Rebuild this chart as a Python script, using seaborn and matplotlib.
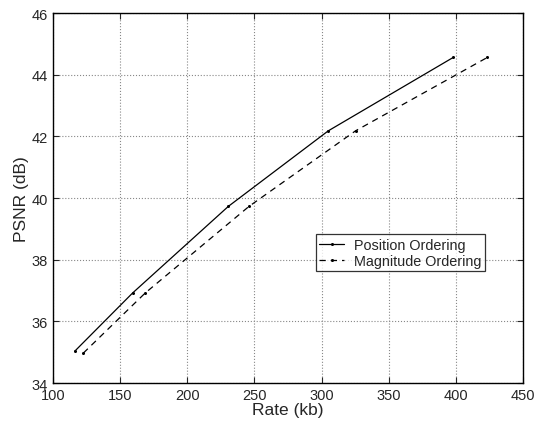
import numpy as np
import pandas as pd
import matplotlib
matplotlib.use("Agg")
import matplotlib.pyplot as plt
import seaborn as sns

# values
pos_rate = [116.4, 159.3, 230.6, 305.0, 398.0]
pos_psnr = [35.04, 36.92, 39.73, 42.18, 44.56]
mag_rate = [122.6, 168.7, 246.0, 325.3, 423.4]
mag_psnr = [34.97, 36.92, 39.73, 42.18, 44.56]
series_names = ["Position Ordering", "Magnitude Ordering"]

df = pd.concat([
    pd.DataFrame({"Rate": pos_rate, "PSNR": pos_psnr, "Method": series_names[0]}),
    pd.DataFrame({"Rate": mag_rate, "PSNR": mag_psnr, "Method": series_names[1]}),
], ignore_index=True)

sns.set_style("ticks")
plt.rcParams['font.family'] = ['Liberation Sans', 'DejaVu Sans']
plt.rcParams['xtick.direction'] = 'in'
plt.rcParams['ytick.direction'] = 'in'

fig = plt.figure(figsize=(5.49, 4.27), dpi=100)
ax = fig.add_axes([0.0965, 0.1007, 0.8561, 0.8663])

sns.lineplot(data=df, x="Rate", y="PSNR", hue="Method", style="Method",
             palette=["black", "black"], dashes=[(None, None), (5, 4)],
             markers=["o", "o"], markersize=2.2, markeredgewidth=0,
             linewidth=0.9, sort=False, ax=ax)

ax.set_xlim(100, 450)
ax.set_ylim(34, 46)
ax.set_xticks(np.arange(100, 451, 50))
ax.set_yticks(np.arange(34, 47, 2))
ax.grid(True, linestyle=':', color='#888888', linewidth=0.8)
ax.tick_params(top=True, right=True, labelsize=10.5, length=4, width=0.8)
for s in ax.spines.values():
    s.set_linewidth(1.0)
    s.set_color('black')

ax.set_xlabel("Rate (kb)", fontsize=12.5, labelpad=0)
ax.set_ylabel("PSNR (dB)", fontsize=12.5, labelpad=2)

leg = ax.legend(title=None, loc='center left', bbox_to_anchor=(0.544, 0.352),
                fontsize=10.4, frameon=True, fancybox=False, edgecolor='black',
                borderpad=0.25, handlelength=1.7, handletextpad=0.7,
                labelspacing=0.15)
leg.get_frame().set_linewidth(0.9)

fig.savefig("out.png", dpi=100)
